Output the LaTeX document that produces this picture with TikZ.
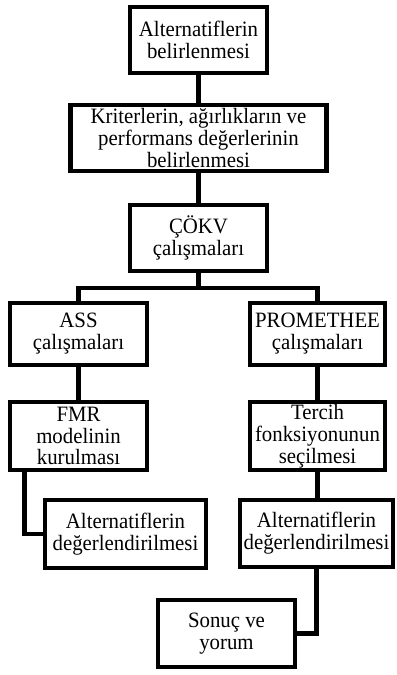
\documentclass[tikz,border=0pt]{standalone}
\usepackage{fontspec}
\setmainfont[FakeStretch=0.95]{Liberation Serif}
\begin{document}
\begin{tikzpicture}[x=1bp,y=-1bp,
        box/.style={draw=black,line width=4.5bp,align=center,inner sep=0pt,
            font=\fontsize{22}{22}\selectfont},
        link/.style={draw=black,line width=4.5bp}]
        \useasboundingbox (0,0) rectangle (396,675);

        % main column
        \node[box,minimum width=137bp,minimum height=66bp] (alt) at (198.5,40)
            {Alternatiflerin\\belirlenmesi};
        \node[box,minimum width=256bp,minimum height=66bp] (krit) at (198.5,138)
            {Kriterlerin, ağırlıkların ve\\performans değerlerinin\\belirlenmesi};
        \node[box,minimum width=137bp,minimum height=66bp] (cokv) at (198.5,238)
            {ÇÖKV\\çalışmaları};
        \coordinate (split) at (198.5,288);

        % left branch
        \node[box,minimum width=137bp,minimum height=62bp] (ass) at (78.5,334)
            {ASS\\çalışmaları};
        \node[box,minimum width=137bp,minimum height=68bp] (fmr) at (78.5,436)
            {FMR\\modelinin\\kurulması};
        \node[box,minimum width=161bp,minimum height=68bp] (degl) at (125.5,534)
            {Alternatiflerin\\değerlendirilmesi};

        % right branch
        \node[box,minimum width=135bp,minimum height=62bp] (prom) at (317.5,334)
            {PROMETHEE\\çalışmaları};
        \node[box,minimum width=135bp,minimum height=68bp] (tercih) at (317.5,436)
            {Tercih\\fonksiyonunun\\seçilmesi};
        \node[box,minimum width=153bp,minimum height=67bp] (degr) at (316.5,533.5)
            {Alternatiflerin\\değerlendirilmesi};
        \node[box,minimum width=137bp,minimum height=67bp] (sonuc) at (226.5,633.5)
            {Sonuç ve\\yorum};

        % connectors
        \draw[link] (alt) -- (krit);
        \draw[link] (krit) -- (cokv);
        \draw[link] (cokv) -- (split);
        \draw[link] (split) -| (ass);
        \draw[link] (split) -| (prom);
        \draw[link] (ass) -- (fmr);
        \draw[link] (prom) -- (tercih);
        \draw[link] ([xshift=17bp]fmr.south west) |- (degl.west);
        \draw[link] (tercih.south) -- (tercih.south |- degr.north);
        \draw[link] (degr.south) |- (sonuc.east);
\end{tikzpicture}
\end{document}
